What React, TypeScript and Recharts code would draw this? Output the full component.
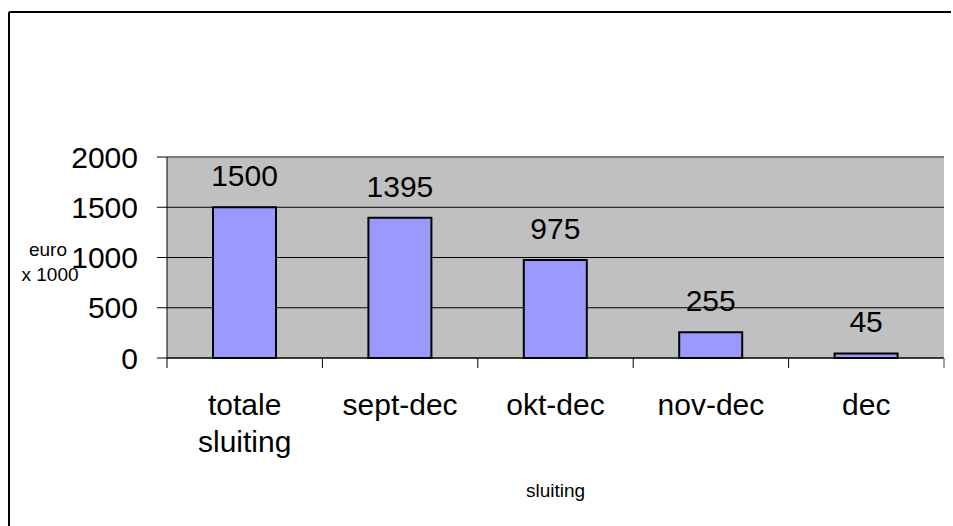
import React from 'react'
import {
  BarChart,
  Bar,
  XAxis,
  YAxis,
  CartesianGrid,
  ReferenceLine,
  LabelList,
  Label,
} from 'recharts'

const categories = ['totale sluiting', 'sept-dec', 'okt-dec', 'nov-dec', 'dec']
const values = [1500, 1395, 975, 255, 45]
const yTicks = [0, 500, 1000, 1500, 2000]

const data = categories.map((name, i) => ({ name, value: values[i] }))

const W = 953
const H = 526
const PLOT_LEFT = 167
const PLOT_RIGHT = 944
const PLOT_TOP = 157
const PLOT_BOTTOM = 358
const BAND = (PLOT_RIGHT - PLOT_LEFT) / categories.length
const FONT = '"Liberation Sans", Arial, sans-serif'

// category label centred in its band, tick marks on the band edges
const CategoryTick = (props: any) => {
  const { x, y, payload, index } = props
  const lines = String(payload.value).split(' ')
  return (
    <g>
      <line x1={x - BAND / 2} x2={x - BAND / 2} y1={y} y2={y + 10} stroke="#000" strokeWidth={1} />
      {index === categories.length - 1 && (
        <line x1={x + BAND / 2} x2={x + BAND / 2} y1={y} y2={y + 10} stroke="#808080" strokeWidth={1.5} />
      )}
      <text x={x} y={y + 57} textAnchor="middle" fontSize={30} fill="#000" fontFamily={FONT}>
        {lines.map((l, i) => (
          <tspan key={i} x={x} dy={i === 0 ? 0 : 37}>{l}</tspan>
        ))}
      </text>
    </g>
  )
}

const YTitle = () => (
  <text textAnchor="middle" fontSize={19} fill="#000" fontFamily={FONT}>
    <tspan x={48} y={256}>euro</tspan>
    <tspan x={50} y={281}>x 1000</tspan>
  </text>
)

const App: React.FC = () => {
  return (
    <div style={{ position: 'absolute', left: 0, top: 0, width: W, height: H, overflow: 'hidden', background: '#fff', fontFamily: FONT }}>
      <BarChart
        width={W}
        height={H}
        data={data}
        barSize={63}
        margin={{ top: PLOT_TOP, right: W - PLOT_RIGHT, bottom: 38, left: 0 }}
      >
        <CartesianGrid fill="#C0C0C0" fillOpacity={1} stroke="#000" vertical={false} />
        <ReferenceLine y={2000} stroke="#808080" strokeWidth={1.5} />
        <XAxis
          dataKey="name"
          height={H - PLOT_BOTTOM - 38}
          stroke="#000"
          tickLine={false}
          tickSize={0}
          tickMargin={0}
          interval={0}
          tick={<CategoryTick />}
        >
          <Label
            value="sluiting"
            content={() => (
              <text x={(PLOT_LEFT + PLOT_RIGHT) / 2} y={497} textAnchor="middle" fontSize={19} fill="#000" fontFamily={FONT}>
                sluiting
              </text>
            )}
          />
        </XAxis>
        <YAxis
          width={PLOT_LEFT}
          domain={[0, 2000]}
          ticks={yTicks}
          stroke="#000"
          tickSize={10}
          tickMargin={19}
          tick={{ fontSize: 30, fill: '#000', fontFamily: FONT }}
        >
          <Label content={<YTitle />} />
        </YAxis>
        <YAxis yAxisId="border" orientation="right" width={0} tick={false} tickLine={false} stroke="#808080" strokeWidth={1.5} />
        <Bar dataKey="value" fill="#9999FF" stroke="#000" strokeWidth={2} isAnimationActive={false}>
          <LabelList dataKey="value" position="top" offset={21} fontSize={30} fill="#000" fontFamily={FONT} />
        </Bar>
      </BarChart>
      {/* chart frame: only the top and left edges fall inside the picture */}
      <svg width={W} height={H} style={{ position: 'absolute', left: 0, top: 0, pointerEvents: 'none' }}>
        <line x1={9} y1={12} x2={W - 2} y2={12} stroke="#000" strokeWidth={2} />
        <line x1={9} y1={12} x2={9} y2={H} stroke="#000" strokeWidth={2} />
      </svg>
    </div>
  )
}

export default App
